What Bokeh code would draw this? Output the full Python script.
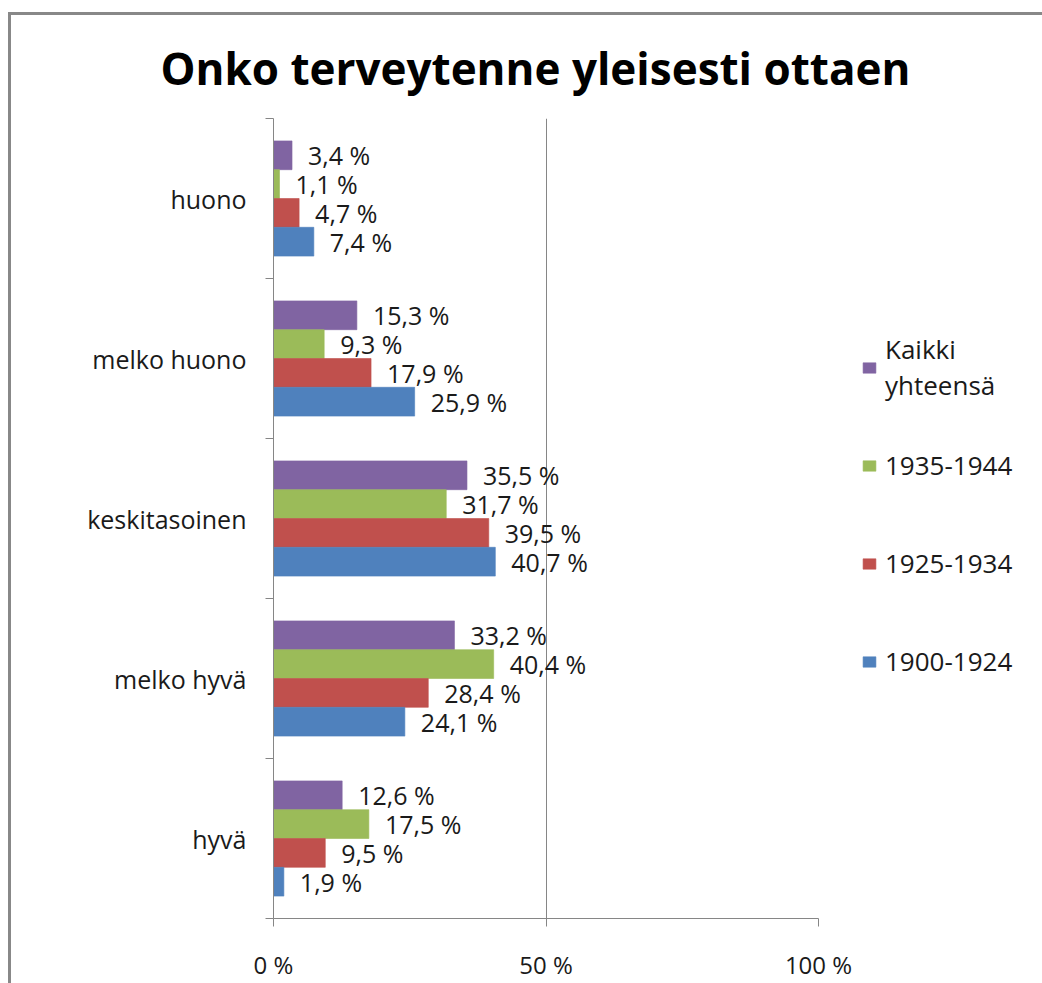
from bokeh.plotting import figure
from bokeh.models import (ColumnDataSource, FixedTicker, Legend, LegendItem, Range1d)
from bokeh.core.properties import value
from bokeh.embed import file_html
from bokeh.resources import INLINE

# ---- data ----
categories = ["huono", "melko huono", "keskitasoinen", "melko hyvä", "hyvä"]  # top to bottom
series_names = ["Kaikki\nyhteensä", "1935-1944", "1925-1934", "1900-1924"]
kaikki = [3.4, 15.3, 35.5, 33.2, 12.6]
s1935 = [1.1, 9.3, 31.7, 40.4, 17.5]
s1925 = [4.7, 17.9, 39.5, 28.4, 9.5]
s1900 = [7.4, 25.9, 40.7, 24.1, 1.9]
x_ticks = [0, 50, 100]
x_tick_labels = ["0 %", "50 %", "100 %"]

series_values = [kaikki, s1935, s1925, s1900]
colors = ["#8064A2", "#9BBB59", "#C0504D", "#4F81BD"]
offsets = [0.27, 0.09, -0.09, -0.27]
FONT = "Open Sans"

n = len(categories)
centers = [n - 1 - i + 0.5 for i in range(n)]

p = figure(output_backend="svg", toolbar_location=None,
           x_range=Range1d(0, 100), y_range=Range1d(0, n),
           min_border_left=262, min_border_right=208, min_border_top=103,
           min_border_bottom=55, frame_width=545, frame_height=800)
p.margin = (12, 0, 0, 8)
p.styles = {"border-left": "3px solid #888888", "border-top": "3px solid #888888"}
p.outline_line_color = None
p.background_fill_color = "white"
p.border_fill_color = "white"

p.title.text = "Onko terveytenne yleisesti ottaen"
p.title.text_font = FONT
p.title.text_font_size = "44px"
p.title.text_font_style = "bold"
p.title.align = "left"
p.title.offset = -113
p.title.text_color = "black"
p.title.standoff = 41

renderers = []
for name, vals, col, off in zip(series_names, series_values, colors, offsets):
    src = ColumnDataSource(dict(
        y=[c + off for c in centers],
        v=vals,
        lab=[("%.1f" % v).replace(".", ",") + " %" for v in vals],
    ))
    r = p.hbar(y="y", right="v", left=0, height=0.18, source=src,
               fill_color=col, line_color=col, line_alpha=0.6)
    p.text(x="v", y="y", text="lab", source=src, x_offset=16,
           text_align="left", text_baseline="middle",
           text_font=value(FONT), text_font_size="25px", text_color="#1a1a1a")
    renderers.append((name, r))

# grid
p.ygrid.grid_line_color = None
p.xgrid.grid_line_color = "#868686"
p.xgrid.ticker = FixedTicker(ticks=x_ticks)

# x axis
p.xaxis.ticker = FixedTicker(ticks=x_ticks)
p.xaxis.major_label_overrides = {t: l for t, l in zip(x_ticks, x_tick_labels)}
p.xaxis.axis_line_color = "#868686"
p.xaxis.major_tick_line_color = "#868686"
p.xaxis.major_tick_out = 8
p.xaxis.major_tick_in = 0
p.xaxis.minor_tick_line_color = None
p.xaxis.major_label_standoff = 21
p.xaxis.major_label_text_font = FONT
p.xaxis.major_label_text_font_size = "24px"
p.xaxis.major_label_text_color = "#1a1a1a"

# y axis: labels at centres, ticks at boundaries
p.yaxis.ticker = FixedTicker(ticks=centers, minor_ticks=list(range(n + 1)))
p.yaxis.major_label_overrides = {c: cat for c, cat in zip(centers, categories)}
p.yaxis.axis_line_color = "#868686"
p.yaxis.major_tick_line_color = None
p.yaxis.major_tick_out = 0
p.yaxis.major_tick_in = 0
p.yaxis.minor_tick_line_color = "#868686"
p.yaxis.minor_tick_out = 8
p.yaxis.minor_tick_in = 0
p.yaxis.major_label_standoff = 19
p.yaxis.major_label_text_font = FONT
p.yaxis.major_label_text_font_size = "25px"
p.yaxis.major_label_text_color = "#1a1a1a"

legend = Legend(items=[LegendItem(label=nm, renderers=[r]) for nm, r in renderers],
                location=(43, 221), orientation="vertical",
                glyph_width=16, glyph_height=13, label_standoff=8,
                label_height=72, spacing=26, padding=0, margin=0,
                border_line_color=None, background_fill_alpha=0,
                label_text_font=FONT, label_text_font_size="26px",
                label_text_color="#1a1a1a")
p.add_layout(legend, "right")

open("out.html", "w").write(file_html(p, INLINE))
